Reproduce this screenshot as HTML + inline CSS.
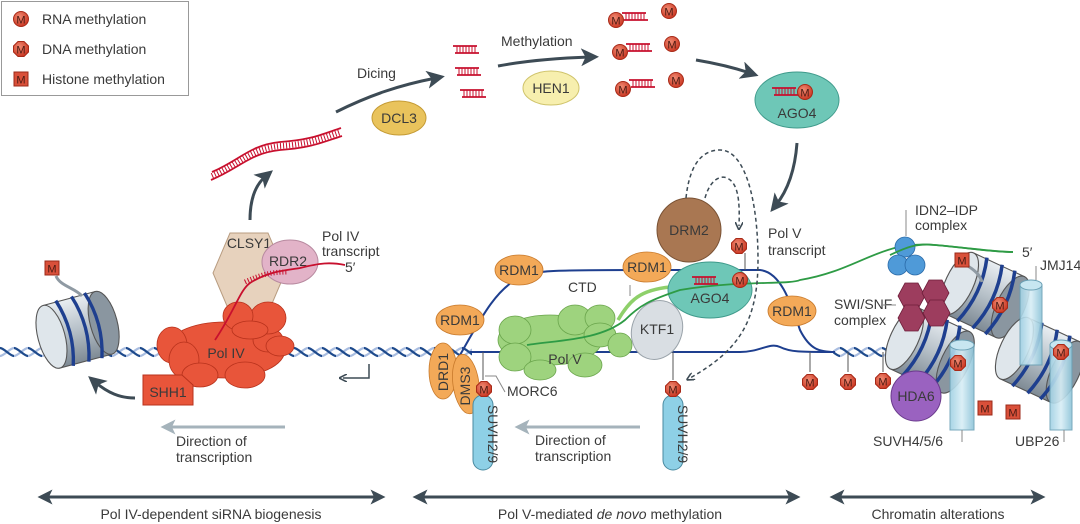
<!DOCTYPE html>
<html><head><meta charset="utf-8"><style>
html,body{margin:0;padding:0;background:#fff;}
svg{display:block;}
text{font-family:"Liberation Sans",sans-serif;fill:#3a3a3a;font-size:14px;}
</style></head><body>
<svg width="1080" height="524" viewBox="0 0 1080 524" xmlns="http://www.w3.org/2000/svg">
<defs>
<pattern id="hx" x="0" y="346" width="14" height="12" patternUnits="userSpaceOnUse">
<path d="M0 10 C4 10 10 2 14 2" stroke="#a9bde0" stroke-width="2.2" fill="none"/>
<path d="M0 2 C4 2 10 10 14 10" stroke="#1e4a8c" stroke-width="2.2" fill="none"/>
</pattern>
<marker id="ah" markerWidth="6" markerHeight="6" refX="3" refY="3" orient="auto" markerUnits="strokeWidth"><path d="M0,0 L6,3 L0,6 L1.5,3z" fill="#3d4b55"/></marker>
<marker id="ahs" markerWidth="8" markerHeight="8" refX="4" refY="4" orient="auto" markerUnits="userSpaceOnUse"><path d="M0,0 L8,4 L0,8" fill="none" stroke="#3d4b55" stroke-width="1.6"/></marker>
<marker id="ahg" markerWidth="5" markerHeight="5" refX="2.5" refY="2.5" orient="auto" markerUnits="strokeWidth"><path d="M0,0 L5,2.5 L0,5 L1.2,2.5z" fill="#a5b3bb"/></marker>
<marker id="ahb" markerWidth="5" markerHeight="5" refX="2.5" refY="2.5" orient="auto-start-reverse" markerUnits="strokeWidth"><path d="M0,0 L5,2.5 L0,5 L1.2,2.5z" fill="#3d4b55"/></marker>
<radialGradient id="mr" cx="40%" cy="35%" r="70%"><stop offset="0" stop-color="#f08a72"/><stop offset="1" stop-color="#c8321e"/></radialGradient>
<linearGradient id="cyl" x1="0" x2="1"><stop offset="0" stop-color="#9fd0e3"/><stop offset="0.5" stop-color="#d8eef6"/><stop offset="1" stop-color="#8cc3d8"/></linearGradient>
<linearGradient id="nuc" x1="0" x2="0" y1="0" y2="1"><stop offset="0" stop-color="#e9eef2"/><stop offset="0.5" stop-color="#b6c0c8"/><stop offset="1" stop-color="#7e8a94"/></linearGradient>
<g id="mc"><circle r="7.5" fill="url(#mr)" stroke="#a82a18" stroke-width="1"/><text y="4.5" text-anchor="middle" style="font-size:11px;fill:#4a1a12">M</text></g>
<g id="mo"><polygon points="-3,-7.5 3,-7.5 7.5,-3 7.5,3 3,7.5 -3,7.5 -7.5,3 -7.5,-3" fill="url(#mr)" stroke="#a82a18"/><text y="4.5" text-anchor="middle" style="font-size:11px;fill:#4a1a12">M</text></g>
<g id="ms"><rect x="-7" y="-7" width="14" height="14" fill="#d9503a" stroke="#9c2a18"/><text y="4.5" text-anchor="middle" style="font-size:11px;fill:#4a1a12">M</text></g>
<g id="sir"><path d="M0 0 h24 M2 7 h24" stroke="#c8102e" stroke-width="1.8"/><path d="M4 0v7M7 0v7M10 0v7M13 0v7M16 0v7M19 0v7M22 0v7" stroke="#c8102e" stroke-width="1"/></g>
<g id="nucl">
<rect x="-28" y="-24" width="40" height="48" fill="url(#nuc)" stroke="#555" stroke-width="0.8"/>
<ellipse cx="12" cy="0" rx="10" ry="24" fill="#8a96a0" stroke="#555" stroke-width="0.8"/>
<ellipse cx="-28" cy="0" rx="10" ry="24" fill="#dfe6eb" stroke="#555" stroke-width="0.8"/>
<path d="M-18 -25 q8 25 0 50 M-6 -25 q8 25 0 50 M4 -25 q8 25 0 50" stroke="#1e3f8f" stroke-width="2.5" fill="none"/>
</g>
</defs>

<!-- legend -->
<rect x="1.5" y="1.5" width="187" height="94" fill="#fff" stroke="#999"/>
<use href="#mc" x="21" y="19"/><text x="42" y="24">RNA methylation</text>
<use href="#mo" x="21" y="49"/><text x="42" y="54">DNA methylation</text>
<use href="#ms" x="21" y="79"/><text x="42" y="84">Histone methylation</text>

<!-- top flow -->
<path d="M212 172 C240 160 250 145 280 142 C310 140 320 135 341 128" stroke="#c8102e" stroke-width="1.8" fill="none"/>
<path d="M211 180 C240 168 250 153 280 150 C310 148 320 143 342 136" stroke="#c8102e" stroke-width="1.8" fill="none"/>
<path d="M212 176 C240 164 250 149 280 146 C310 144 320 139 341 132" stroke="#c8102e" stroke-width="6" stroke-dasharray="1 2" fill="none"/>
<path d="M250 220 C250 200 255 185 266 176" stroke="#3d4b55" stroke-width="3" fill="none" marker-end="url(#ah)"/>
<path d="M336 112 C370 95 400 85 436 78" stroke="#3d4b55" stroke-width="3" fill="none" marker-end="url(#ah)"/>
<text x="357" y="78">Dicing</text>
<ellipse cx="399" cy="118" rx="27" ry="17" fill="#e9c35c" stroke="#c49a33"/><text x="399" y="123" text-anchor="middle">DCL3</text>
<use href="#sir" x="453" y="46"/><use href="#sir" x="455" y="68"/><use href="#sir" x="460" y="90"/>
<path d="M498 66 C530 60 560 58 590 57" stroke="#3d4b55" stroke-width="3" fill="none" marker-end="url(#ah)"/>
<text x="501" y="46">Methylation</text>
<ellipse cx="551" cy="88" rx="28" ry="17" fill="#f7efae" stroke="#cfc36a"/><text x="551" y="93" text-anchor="middle">HEN1</text>
<use href="#sir" x="622" y="13"/><use href="#sir" x="626" y="44"/><use href="#sir" x="629" y="80"/>
<use href="#mc" x="616" y="20"/><use href="#mc" x="669" y="11"/>
<use href="#mc" x="620" y="52"/><use href="#mc" x="672" y="44"/>
<use href="#mc" x="623" y="89"/><use href="#mc" x="676" y="80"/>
<path d="M696 60 C720 64 735 68 750 73" stroke="#3d4b55" stroke-width="3" fill="none" marker-end="url(#ah)"/>
<ellipse cx="797" cy="100" rx="42" ry="28" fill="#6ec7b7" stroke="#3f9a8b"/>
<use href="#sir" x="772" y="88"/><use href="#mc" x="805" y="92"/>
<text x="797" y="118" text-anchor="middle">AGO4</text>
<path d="M797 143 C795 170 788 190 776 205" stroke="#3d4b55" stroke-width="3" fill="none" marker-end="url(#ah)"/>

<!-- helix -->
<rect x="0" y="346" width="472" height="12" fill="url(#hx)"/>
<rect x="833" y="346" width="80" height="12" fill="url(#hx)"/>

<!-- left region -->
<g transform="translate(88,327) rotate(-15) scale(1.35)"><use href="#nucl"/></g>
<path d="M56 276 C60 286 75 288 82 296" stroke="#8f9aa3" stroke-width="3" fill="none"/>
<use href="#ms" x="52" y="268"/>
<polygon points="230,233 268,233 285,273 268,313 230,313 213,273" fill="#e7d2bd" stroke="#b89c80"/>
<text x="249" y="248" text-anchor="middle">CLSY1</text>
<g fill="#e8553a" stroke="#b8321c" stroke-width="0.8">
<ellipse cx="225" cy="350" rx="60" ry="28"/>
<ellipse cx="172" cy="345" rx="15" ry="18"/>
<ellipse cx="184" cy="360" rx="15" ry="18"/>
<ellipse cx="200" cy="375" rx="18" ry="12"/>
<ellipse cx="245" cy="375" rx="20" ry="13"/>
<ellipse cx="268" cy="340" rx="15" ry="12"/>
<ellipse cx="268" cy="318" rx="18" ry="16"/>
<ellipse cx="238" cy="316" rx="15" ry="14"/>
<ellipse cx="280" cy="346" rx="14" ry="10"/>
<ellipse cx="250" cy="330" rx="18" ry="9"/>
</g>
<text x="226" y="358" text-anchor="middle">Pol IV</text>
<ellipse cx="290" cy="262" rx="28" ry="22" fill="#e2b3c8" stroke="#b88aa0"/>
<text x="288" y="266" text-anchor="middle">RDR2</text>
<path d="M215 340 C235 310 240 290 250 283 C270 270 290 270 300 268 C320 263 330 262 345 265" stroke="#c8102e" stroke-width="1.8" fill="none"/>
<path d="M245 282 C260 275 270 272 288 272" stroke="#c8102e" stroke-width="5" stroke-dasharray="1 2" fill="none"/>
<text x="322" y="241">Pol IV</text><text x="322" y="256">transcript</text><text x="345" y="272">5′</text>
<polygon points="143,375 182,375 193,385 193,405 143,405" fill="#e8553a" stroke="#b8321c"/>
<text x="168" y="397" text-anchor="middle">SHH1</text>
<path d="M135 398 C120 398 108 393 95 382" stroke="#3d4b55" stroke-width="3" fill="none" marker-end="url(#ah)"/>
<path d="M285 427 H168" stroke="#a5b3bb" stroke-width="3" marker-end="url(#ahg)"/>
<text x="176" y="446">Direction of</text><text x="176" y="462">transcription</text>
<path d="M369 364 V378 H343" stroke="#3d4b55" stroke-width="1.5" fill="none" marker-end="url(#ahs)"/>

<!-- middle region -->
<path d="M460 355 C480 320 495 290 519 278 C530 270 560 270 640 270 L760 270 C780 272 790 300 800 330 C810 350 820 352 835 352" stroke="#1e3f8f" stroke-width="2" fill="none"/>
<path d="M470 352 L740 352 C760 352 770 342 780 347 C790 352 800 352 835 352" stroke="#1e3f8f" stroke-width="2" fill="none"/>
<g fill="#9ed37e" stroke="#6aa54c" stroke-width="0.8">
<ellipse cx="550" cy="340" rx="52" ry="25"/>
<ellipse cx="515" cy="330" rx="16" ry="14"/><ellipse cx="515" cy="357" rx="16" ry="14"/>
<ellipse cx="540" cy="370" rx="16" ry="10"/><ellipse cx="585" cy="365" rx="17" ry="12"/>
<ellipse cx="575" cy="320" rx="17" ry="15"/><ellipse cx="600" cy="318" rx="15" ry="13"/>
<ellipse cx="600" cy="335" rx="16" ry="12"/><ellipse cx="620" cy="345" rx="12" ry="12"/>
</g>
<text x="565" y="364" text-anchor="middle">Pol V</text>
<path d="M618 320 C630 300 640 290 670 287" stroke="#8ed06a" stroke-width="3.5" fill="none"/>
<text x="568" y="292">CTD</text><path d="M630 285 V296" stroke="#888"/>
<ellipse cx="657" cy="330" rx="25" ry="30" transform="rotate(20 657 330)" fill="#d9dee3" stroke="#9aa3aa"/>
<text x="657" y="334" text-anchor="middle">KTF1</text>
<ellipse cx="710" cy="290" rx="42" ry="28" fill="#6ec7b7" stroke="#3f9a8b"/>
<text x="710" y="303" text-anchor="middle">AGO4</text>
<path d="M527 345 C560 340 600 340 625 320 C640 305 650 300 680 290 C740 280 790 285 800 280 C860 270 880 240 935 245 C970 248 990 252 1013 252" stroke="#2e9b45" stroke-width="1.8" fill="none"/>
<use href="#sir" x="692" y="277"/><use href="#mc" x="740" y="280"/>
<circle cx="689" cy="230" r="32" fill="#a97752" stroke="#7a5234"/><text x="689" y="235" text-anchor="middle">DRM2</text>
<path d="M745 270 V253" stroke="#555"/><use href="#mo" x="739" y="246"/>
<path d="M686 198 C690 160 705 150 720 150 C745 150 758 200 758 260 C758 320 740 350 690 378" stroke="#3d4b55" stroke-width="1.5" stroke-dasharray="4 3" fill="none" marker-end="url(#ahs)"/>
<path d="M705 198 C710 180 720 175 727 178 C738 183 740 200 739 226" stroke="#3d4b55" stroke-width="1.5" stroke-dasharray="4 3" fill="none" marker-end="url(#ahs)"/>
<g fill="#f3a958" stroke="#c87a2c" stroke-width="0.8">
<ellipse cx="519" cy="270" rx="24" ry="15"/>
<ellipse cx="647" cy="267" rx="24" ry="15"/>
<ellipse cx="792" cy="311" rx="24" ry="15"/>
<ellipse cx="460" cy="320" rx="24" ry="15"/>
<ellipse cx="443" cy="371" rx="14" ry="28"/>
<ellipse cx="466" cy="384" rx="13" ry="30" transform="rotate(-8 466 384)"/>
</g>
<text x="519" y="275" text-anchor="middle">RDM1</text><text x="647" y="272" text-anchor="middle">RDM1</text>
<text x="792" y="316" text-anchor="middle">RDM1</text><text x="460" y="325" text-anchor="middle">RDM1</text>
<text transform="translate(448,372) rotate(-90)" text-anchor="middle">DRD1</text>
<text transform="translate(470,386) rotate(-90)" text-anchor="middle">DMS3</text>
<rect x="473" y="395" width="20" height="75" rx="10" fill="#8ed0e6" stroke="#4a8aa0"/>
<text transform="translate(488,434) rotate(90)" text-anchor="middle">SUVH2/9</text>
<path d="M483 352 V380" stroke="#555"/><use href="#mo" x="484" y="389"/>
<text x="507" y="396">MORC6</text><path d="M505 392 L496 376 H485" stroke="#888" fill="none"/>
<rect x="663" y="395" width="20" height="75" rx="10" fill="#8ed0e6" stroke="#4a8aa0"/>
<text transform="translate(678,434) rotate(90)" text-anchor="middle">SUVH2/9</text>
<path d="M673 352 V380" stroke="#555"/><use href="#mo" x="673" y="389"/>
<path d="M640 427 H522" stroke="#a5b3bb" stroke-width="3" marker-end="url(#ahg)"/>
<text x="535" y="445">Direction of</text><text x="535" y="461">transcription</text>
<text x="768" y="238">Pol V</text><text x="768" y="255">transcript</text>
<path d="M810 352 V372" stroke="#555"/><use href="#mo" x="810" y="382"/>
<path d="M848 352 V372" stroke="#555"/><use href="#mo" x="848" y="382"/>
<path d="M883 352 V372" stroke="#555"/><use href="#mo" x="883" y="381"/>

<!-- right region -->
<g transform="translate(995,300) rotate(25) scale(1.4)"><use href="#nucl"/></g>
<g transform="translate(940,355) rotate(25) scale(1.4)"><use href="#nucl"/></g>
<g transform="translate(1050,365) rotate(25) scale(1.4)"><use href="#nucl"/></g>
<g fill="#9d3d5e" stroke="#6e1e3a" stroke-width="0.8">
<polygon points="905,283 918,283 925,296 918,309 905,309 898,296"/>
<polygon points="929,280 942,280 949,293 942,306 929,306 922,293"/>
<polygon points="905,305 918,305 925,318 918,331 905,331 898,318"/>
<polygon points="930,300 943,300 950,313 943,326 930,326 923,313"/>
</g>
<g fill="#4f9ad8" stroke="#2a6aa8" stroke-width="0.8">
<circle cx="905" cy="247" r="10"/><circle cx="898" cy="265" r="10"/><circle cx="915" cy="265" r="10"/>
</g>
<path d="M1013 252 C995 252 970 248 935 245 C915 243 905 248 890 255" stroke="#2e9b45" stroke-width="1.8" fill="none"/>
<path d="M906 236 V210" stroke="#888"/>
<text x="915" y="215">IDN2–IDP</text><text x="915" y="230">complex</text>
<text x="1022" y="257">5′</text>
<text x="834" y="309">SWI/SNF</text><text x="834" y="325">complex</text><path d="M881 305 H896" stroke="#888"/>
<path d="M966 265 C975 270 980 275 982 282" stroke="#8f9aa3" stroke-width="3" fill="none"/><use href="#ms" x="962" y="260"/>
<use href="#mo" x="1000" y="305"/>
<rect x="1020" y="285" width="22" height="80" fill="url(#cyl)" stroke="#6aa0b5" opacity="0.9"/><ellipse cx="1031" cy="285" rx="11" ry="5" fill="#c7e6f1" stroke="#6aa0b5"/>
<text x="1040" y="270">JMJ14</text><path d="M1036 266 V280" stroke="#888"/>
<rect x="950" y="345" width="24" height="85" fill="url(#cyl)" stroke="#6aa0b5" opacity="0.9"/><ellipse cx="962" cy="345" rx="12" ry="5" fill="#c7e6f1" stroke="#6aa0b5"/>
<use href="#mo" x="958" y="363"/>
<rect x="1050" y="345" width="22" height="85" fill="url(#cyl)" stroke="#6aa0b5" opacity="0.9"/><ellipse cx="1061" cy="345" rx="11" ry="5" fill="#c7e6f1" stroke="#6aa0b5"/>
<use href="#mo" x="1061" y="352"/>
<circle cx="916" cy="396" r="25" fill="#9a62c0" stroke="#6a3a8c"/><text x="916" y="401" text-anchor="middle">HDA6</text>
<use href="#ms" x="985" y="408"/><use href="#ms" x="1013" y="412"/>
<text x="873" y="446">SUVH4/5/6</text><path d="M962 430 V442" stroke="#888"/>
<text x="1015" y="446">UBP26</text><path d="M1064 430 V442" stroke="#888"/>

<!-- bottom -->
<path d="M45 497 H378" stroke="#3d4b55" stroke-width="3" marker-start="url(#ahb)" marker-end="url(#ahb)"/>
<path d="M420 497 H793" stroke="#3d4b55" stroke-width="3" marker-start="url(#ahb)" marker-end="url(#ahb)"/>
<path d="M837 497 H1038" stroke="#3d4b55" stroke-width="3" marker-start="url(#ahb)" marker-end="url(#ahb)"/>
<text x="211" y="519" text-anchor="middle">Pol IV-dependent siRNA biogenesis</text>
<text x="610" y="519" text-anchor="middle">Pol V-mediated <tspan font-style="italic">de novo</tspan> methylation</text>
<text x="938" y="519" text-anchor="middle">Chromatin alterations</text>
</svg>
</body></html>
